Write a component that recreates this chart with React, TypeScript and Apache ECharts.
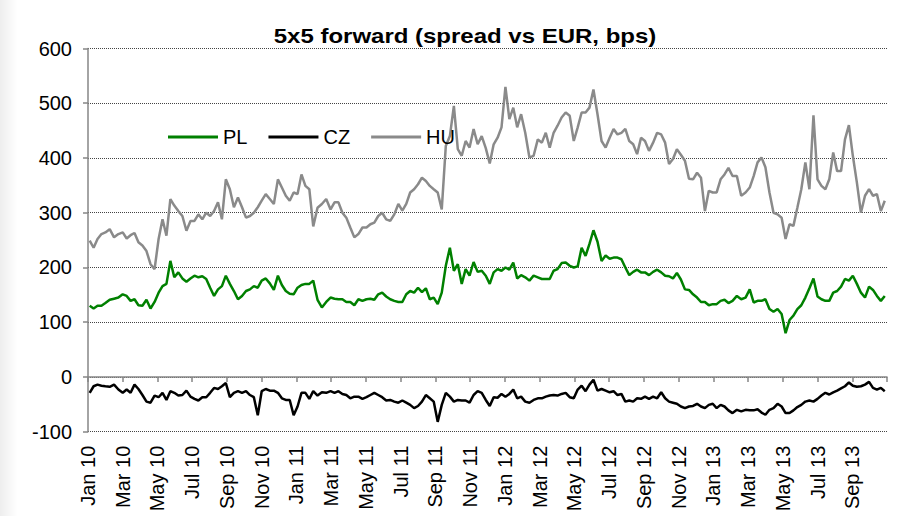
import React, { useEffect, useRef } from "react";
import * as echarts from "echarts";

const TITLE = "5x5 forward (spread vs EUR, bps)";
const SERIES_NAMES = ["PL", "CZ", "HU"];
const MONTHS = ["Jan", "Feb", "Mar", "Apr", "May", "Jun", "Jul", "Aug", "Sep", "Oct", "Nov", "Dec"];
// weekly observations starting Monday 4 Jan 2010
const START = { year: 2010, month: 0, day: 4 };
const STEP_DAYS = 7;

const HU = [
  249, 236, 252, 261, 264, 270, 255, 261, 264, 253,
  259, 263, 246, 240, 230, 206, 197, 252, 288, 258,
  325, 313, 303, 294, 267, 285, 285, 297, 288, 300,
  294, 303, 319, 288, 361, 343, 310, 328, 310, 291,
  294, 300, 310, 322, 334, 325, 316, 361, 346, 331,
  322, 337, 334, 370, 349, 343, 275, 309, 316, 325,
  306, 319, 319, 300, 291, 273, 255, 261, 273, 273,
  279, 282, 294, 300, 288, 285, 297, 316, 304, 316,
  337, 343, 352, 364, 358, 349, 343, 337, 306, 422,
  440, 495, 416, 404, 431, 419, 453, 425, 440, 418,
  390, 425, 437, 456, 530, 471, 492, 456, 480, 446,
  401, 404, 434, 428, 446, 419, 446, 459, 474, 483,
  477, 431, 456, 483, 483, 492, 525, 480, 431, 419,
  437, 453, 443, 446, 453, 431, 425, 407, 437, 431,
  413, 428, 446, 443, 428, 389, 398, 416, 406, 395,
  362, 361, 373, 364, 303, 340, 337, 337, 361, 370,
  382, 367, 367, 331, 337, 346, 367, 392, 401, 383,
  337, 300, 297, 291, 252, 279, 276, 309, 343, 392,
  343, 478, 361, 349, 343, 361, 410, 376, 376, 434,
  460, 404, 355, 300, 331, 343, 331, 334, 303, 322,
];

const PL = [
  130, 125, 130, 130, 135, 141, 143, 145, 151, 148,
  139, 142, 131, 130, 141, 125, 137, 154, 166, 170,
  212, 182, 191, 180, 174, 180, 185, 182, 184, 179,
  163, 148, 160, 166, 185, 170, 157, 142, 148, 157,
  160, 166, 163, 176, 180, 171, 159, 185, 168, 157,
  152, 151, 163, 168, 170, 170, 176, 141, 127, 137,
  145, 143, 142, 142, 137, 137, 131, 142, 139, 142,
  143, 141, 151, 154, 147, 142, 139, 137, 137, 151,
  157, 154, 163, 155, 162, 142, 145, 133, 154, 203,
  236, 194, 206, 170, 197, 185, 210, 192, 194, 185,
  170, 191, 197, 194, 200, 196, 209, 180, 186, 182,
  176, 185, 182, 179, 179, 179, 194, 197, 208, 209,
  203, 200, 202, 236, 221, 243, 268, 247, 212, 222,
  216, 218, 218, 215, 200, 186, 192, 196, 191, 191,
  186, 192, 196, 191, 185, 184, 180, 190, 178, 160,
  159, 151, 145, 137, 137, 131, 133, 133, 139, 141,
  135, 139, 148, 142, 145, 160, 136, 139, 139, 142,
  124, 119, 124, 115, 80, 104, 112, 124, 131, 145,
  162, 180, 147, 142, 139, 139, 154, 157, 165, 179,
  176, 185, 170, 154, 145, 165, 159, 148, 139, 148,
];

const CZ = [
  -29, -17, -14, -16, -17, -18, -14, -23, -29, -23,
  -29, -14, -22, -33, -45, -47, -34, -37, -29, -42,
  -26, -29, -34, -33, -25, -36, -40, -43, -37, -37,
  -29, -20, -22, -17, -11, -37, -29, -26, -29, -26,
  -33, -37, -70, -26, -22, -25, -25, -29, -39, -42,
  -42, -70, -54, -29, -29, -40, -26, -34, -28, -29,
  -26, -29, -26, -31, -33, -39, -36, -36, -40, -37,
  -33, -29, -33, -37, -43, -42, -45, -47, -43, -47,
  -51, -57, -53, -45, -33, -39, -45, -82, -51, -29,
  -36, -45, -42, -43, -43, -47, -33, -26, -29, -42,
  -53, -37, -38, -31, -36, -31, -23, -39, -36, -45,
  -47, -42, -39, -39, -36, -34, -33, -34, -31, -29,
  -37, -39, -23, -16, -26, -14, -5, -25, -22, -25,
  -28, -26, -33, -31, -45, -43, -45, -39, -40, -36,
  -40, -36, -39, -28, -39, -45, -47, -49, -54, -57,
  -54, -53, -49, -54, -57, -51, -49, -57, -51, -54,
  -61, -66, -60, -63, -60, -61, -61, -59, -65, -69,
  -60, -57, -49, -54, -66, -66, -61, -55, -51, -45,
  -43, -45, -40, -34, -29, -32, -28, -25, -21, -17,
  -10, -16, -18, -17, -14, -9, -20, -23, -20, -26,
];

const COLORS: Record<string, string> = { PL: "#008000", CZ: "#000000", HU: "#8a8a8a" };
const VALUES: Record<string, number[]> = { PL, CZ, HU };

// months elapsed since Jan 2010 (fractional), used as x value
function monthIndex(i: number): number {
  const d = new Date(Date.UTC(START.year, START.month, START.day + STEP_DAYS * i));
  const y = d.getUTCFullYear();
  const m = d.getUTCMonth();
  const day = d.getUTCDate();
  const dim = new Date(Date.UTC(y, m + 1, 0)).getUTCDate();
  return (y - 2010) * 12 + m + (day - 1) / dim;
}

const FONT = '"Liberation Sans", Arial, Helvetica, sans-serif';

export default function App() {
  const ref = useRef<HTMLDivElement>(null);
  useEffect(() => {
    if (!ref.current) return;
    const chart = echarts.init(ref.current, null, { renderer: "svg" });
    const series = ["HU", "PL", "CZ"].map((name) => ({
      name,
      type: "line",
      symbol: "none",
      showSymbol: false,
      data: VALUES[name].map((v, i) => [monthIndex(i), v]),
      lineStyle: { color: COLORS[name], width: 2.5 },
      itemStyle: { color: COLORS[name] },
      z: 3,
    }));
    chart.setOption({
      animation: false,
      backgroundColor: "#ffffff",
      textStyle: { fontFamily: FONT },
      graphic: [
        {
          type: "rect",
          silent: true,
          z: -10,
          shape: { x: 0, y: 0, width: 18, height: 516 },
          style: {
            fill: new echarts.graphic.LinearGradient(0, 0, 1, 0, [
              { offset: 0, color: "rgba(0,0,0,0.07)" },
              { offset: 1, color: "rgba(0,0,0,0)" },
            ]),
          },
        },
        {
          type: "text",
          x: 465,
          y: 36,
          scaleX: 1.2,
          style: {
            text: TITLE,
            font: `bold 20px ${FONT}`,
            fill: "#000",
            textAlign: "center",
            textVerticalAlign: "middle",
          },
        },
      ],
      grid: {
        left: 88,
        right: 25,
        top: 48.5,
        bottom: 84.3,
        containLabel: false,
        outerBoundsMode: "none",
      },
      legend: {
        data: SERIES_NAMES.map((n) => ({ name: n, icon: "rect" })),
        left: 163,
        top: 122,
        itemWidth: 50,
        itemHeight: 3,
        itemGap: 21,
        textStyle: { fontSize: 20, color: "#000", fontFamily: FONT },
      },
      xAxis: {
        type: "value",
        min: 0,
        max: 46,
        interval: 2,
        axisLine: { onZero: true, lineStyle: { color: "#868686", width: 1.5 } },
        axisTick: { show: true, length: 5, lineStyle: { color: "#868686", width: 1.5 } },
        axisLabel: {
          rotate: 90,
          margin: 14,
          fontSize: 20,
          color: "#000",
          fontFamily: FONT,
          formatter: (v: number) => {
            if (v >= 46) return "";
            const y = Math.floor(v / 12);
            const m = Math.round(v - y * 12);
            return MONTHS[m] + " " + String(10 + y);
          },
        },
        splitLine: { show: false },
      },
      yAxis: {
        type: "value",
        min: -100,
        max: 600,
        interval: 100,
        axisLine: { show: true, onZero: false, lineStyle: { color: "#868686", width: 1.5 } },
        axisTick: { show: true, length: 5, lineStyle: { color: "#868686", width: 1.5 } },
        axisLabel: { fontSize: 20, color: "#000", margin: 16, fontFamily: FONT },
        splitLine: { show: true, lineStyle: { color: "#444", type: "dotted", width: 1 } },
      },
      series,
    });
    return () => chart.dispose();
  }, []);
  return (
    <div
      ref={ref}
      style={{ position: "fixed", left: 0, top: 0, width: 912, height: 516, background: "#fff" }}
    />
  );
}
